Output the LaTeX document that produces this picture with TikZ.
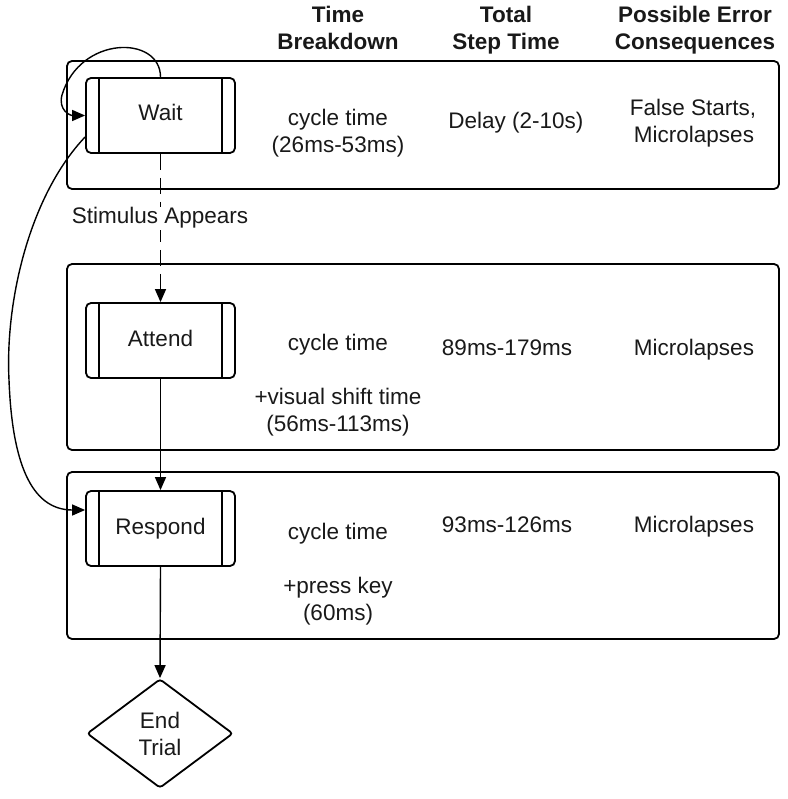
\documentclass[tikz,border=0pt]{standalone}
\usepackage{fontspec}
\setmainfont{Liberation Sans}
\usetikzlibrary{arrows.meta,shapes.geometric}
\begin{document}
\begin{tikzpicture}[x=1pt,y=-1pt,
  every node/.style={font=\fontsize{22.5}{27}\selectfont, text=black!90},
  panel/.style={draw, line width=1.8pt, rounded corners=5pt},
  proc/.style={draw, line width=1.8pt, rounded corners=5pt, minimum width=149pt, minimum height=75pt, inner sep=0pt, text height=16pt, text depth=5pt},
  bar/.style={line width=1.4pt},
  conn/.style={line width=1.4pt, -{Triangle[length=13pt,width=11pt]}},
  lbl/.style={anchor=base, inner sep=0pt},
  hdr/.style={anchor=base, inner sep=0pt, font=\fontsize{22.5}{27}\selectfont\bfseries},
]
\useasboundingbox (0,0) rectangle (787,799);

% panels
\draw[panel] (67,61) rectangle (779,189);
\draw[panel] (67,264) rectangle (779,450);
\draw[panel] (67,472) rectangle (779,639);

% headers
\node[hdr] (h1a) at (338,23) {Time};
\node[hdr] (h1b) at (338,50) {Breakdown};
\node[hdr] (h2a) at (506,23) {Total};
\node[hdr] (h2b) at (506,50) {Step Time};
\node[hdr] (h3a) at (695,23) {Possible Error};
\node[hdr] (h3b) at (695,50) {Consequences};

% process boxes
\node[proc] (wait) at (160.5,115.5) {Wait};
\node[proc] (attend) at (160.5,340.5) {Attend};
\node[proc] (respond) at (160.5,528.5) {Respond};
\foreach \n in {wait,attend,respond}{
  \draw[bar] ([xshift=14pt]\n.north west) -- ([xshift=14pt]\n.south west);
  \draw[bar] ([xshift=-14pt]\n.north east) -- ([xshift=-14pt]\n.south east);
}
\node[diamond, draw, line width=1.8pt, rounded corners=3pt, minimum width=146pt, minimum height=109pt, inner sep=0pt, align=center] (end) at (160,733.5) {End\\Trial};

% connectors
\draw[conn, dash pattern=on 16pt off 8pt] (wait.south) -- (attend.north);
\node[lbl, fill=white, inner sep=1pt] (stim) at (160,224) {Stimulus Appears};
\draw[conn] (attend.south) -- (respond.north);
\draw[conn] (respond.south) -- (end.north);
\draw[conn] (wait.north) .. controls (160.5,35) and (80,35) .. (62,95)
  .. controls (58,110) and (70,115.5) .. (wait.west);
\draw[conn] ([yshift=-21.5pt]wait.west) .. controls (30,195) and (5,300) .. (9,380)
  .. controls (12,460) and (30,510) .. ([yshift=18.5pt]respond.west);

% panel 1 texts
\node[lbl] (t1a) at (338,126) {cycle time};
\node[lbl] (t1b) at (338,153) {(26ms-53ms)};
\node[lbl] (t1c) at (516,129) {Delay (2-10s)};
\node[lbl] (t1d) at (693,116) {False Starts,};
\node[lbl] (t1e) at (694,143) {Microlapses};

% panel 2 texts
\node[lbl] (t2a) at (338,350) {cycle time};
\node[lbl] (t2b) at (338,404) {+visual shift time};
\node[lbl] (t2c) at (338,431) {(56ms-113ms)};
\node[lbl] (t2d) at (507,355) {89ms-179ms};
\node[lbl] (t2e) at (694,355) {Microlapses};

% panel 3 texts
\node[lbl] (t3a) at (338,539) {cycle time};
\node[lbl] (t3b) at (338,593) {+press key};
\node[lbl] (t3c) at (338,620) {(60ms)};
\node[lbl] (t3d) at (507,532) {93ms-126ms};
\node[lbl] (t3e) at (694,532) {Microlapses};
\end{tikzpicture}
\end{document}
